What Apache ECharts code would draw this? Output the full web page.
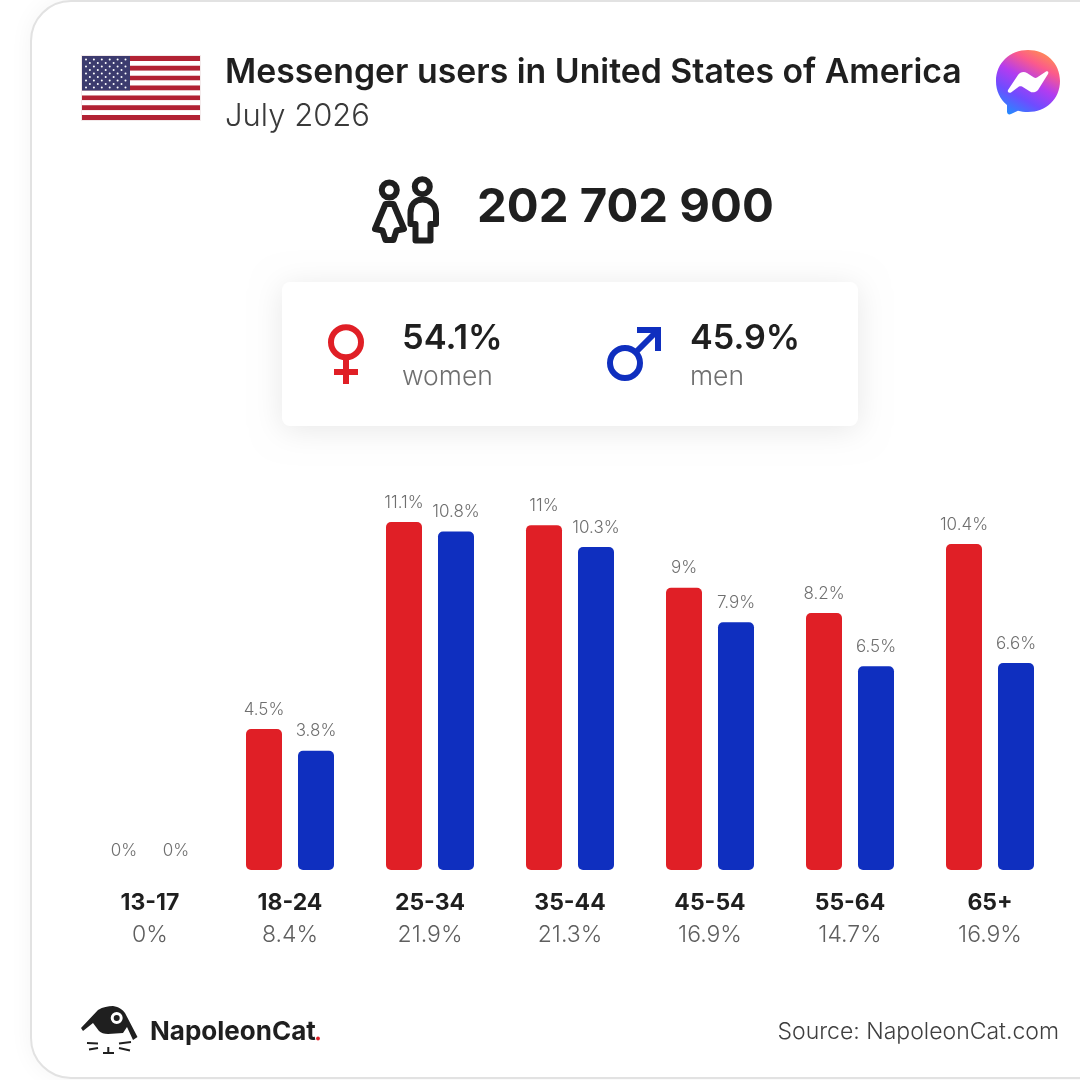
<!DOCTYPE html>
<html><head><meta charset="utf-8">
<style>html,body{margin:0;padding:0;background:#fff}#c{width:1080px;height:1080px}</style>
<script src="https://cdn.jsdelivr.net/npm/echarts@6/dist/echarts.min.js"></script>
</head><body><div id="c"></div>
<script>
const ageGroups = ['13-17','18-24','25-34','35-44','45-54','55-64','65+'];
const ageTotals = ['0%','8.4%','21.9%','21.3%','16.9%','14.7%','16.9%'];
const womenValues = [0,4.5,11.1,11,9,8.2,10.4];
const menValues = [0,3.8,10.8,10.3,7.9,6.5,6.6];
const titleText = 'Messenger users in United States of America';
const dateText = 'July 2026';
const totalText = '202 702 900';
const womenShare = '54.1%';
const menShare = '45.9%';
const sourceText = 'Source: NapoleonCat.com';
const brandText = 'NapoleonCat';

const RED='#e01f26', BLUE='#0f2fbf', INK='#1f1f1f', FONT='Inter, "Open Sans", sans-serif';
const g=[];
let pid=0;
const path=(d,style)=>{const n='decoPath'+(pid++);echarts.graphic.registerShape(n,echarts.graphic.extendPath(d,{}));g.push({type:n,shape:{},style});};
const txt=(x,y,text,size,weight,fill,align)=>g.push({type:'text',x,y,style:{text,fontSize:size,fontWeight:weight,fill,fontFamily:FONT,textAlign:align||'left',textVerticalAlign:'middle'}});
const rect=(x,y,w,h,fill,extra)=>g.push({type:'rect',shape:Object.assign({x,y,width:w,height:h},extra&&extra.shape),style:Object.assign({fill},extra&&extra.style)});

// outer card
rect(31,1,1200,1077,'#fff',{shape:{r:40},style:{stroke:'#e2e2e2',lineWidth:2,shadowBlur:24,shadowColor:'rgba(0,0,0,0.05)'}});

// flag
rect(81,55,120,66,'#f3e9ea');
for(let i=0;i<13;i++){const h=64/13;rect(82,56+i*h,118,h,i%2?'#ffffff':'#b22234');}
rect(82,56,48,34.5,'#3c3b6e');
for(let r=0;r<9;r++){const n=r%2?5:6;for(let k=0;k<n;k++){
  g.push({type:'circle',shape:{cx:86+(r%2?3.9:0)+k*7.9,cy:59.4+r*3.5,r:1},style:{fill:'#fff'}});
}}

txt(225,73,titleText,33.8,600,INK);
txt(225,117,dateText,31,300,'#3a3a3a');

// messenger icon
path('M1028 50 C1046 50 1060 63 1060 81 C1060 99 1046 112 1028 112 C1024 112 1021 111.5 1018 110.7 L1011 114 C1009 115 1007 114 1007 111.5 L1007 105 C1000 99 996 91 996 81 C996 63 1010 50 1028 50 Z',
  {fill:{type:'linear',x:0.15,y:1,x2:0.7,y2:0,colorStops:[{offset:0,color:'#1e90ff'},{offset:0.3,color:'#6f4cff'},{offset:0.55,color:'#b23cf0'},{offset:0.8,color:'#fb5a8c'},{offset:1,color:'#ff8a55'}]}});
path('M1008 90 L1018 75 C1020 72 1024 71 1027 73 L1034 77.5 C1035 78 1036 78 1037 77.5 L1046 71.5 C1048 70.5 1049 72 1048 74 L1038 90 C1036 92.5 1032 93 1030 91.5 L1022 86.5 C1021 86 1020 86 1019 86.5 L1011 92.5 C1009 93.5 1007 92 1008 90 Z',{fill:'#fff'});

// people icon
const ps={stroke:INK,lineWidth:6,fill:'none',lineJoin:'round'};
g.push({type:'circle',shape:{cx:389.3,cy:190,r:7.5},style:ps});
g.push({type:'circle',shape:{cx:422.3,cy:186.7,r:7.5},style:ps});
path('M385.5 204 L393.5 204 L404 229 L396.5 230.5 L393.5 240 L385.5 240 L382.5 230.5 L375 229 Z',ps);
path('M410.5 224 L410.5 213 C410.5 205 415 199.5 422.5 199.5 C430 199.5 436 205 436 213 L436 224 L430.5 224 L430.5 240.5 L415.5 240.5 L415.5 224 Z',ps);
txt(477,208,totalText,47.3,700,INK);

// gender card
rect(282,282,576,144,'#fff',{shape:{r:8},style:{shadowBlur:30,shadowColor:'rgba(0,0,0,0.09)',shadowOffsetY:4}});
g.push({type:'circle',shape:{cx:346,cy:342.3,r:15},style:{fill:'none',stroke:RED,lineWidth:6}});
rect(343,358,6,26,RED); rect(334,369,24,6,RED);
g.push({type:'circle',shape:{cx:625,cy:363,r:15},style:{fill:'none',stroke:BLUE,lineWidth:6}});
path('M635 353 L657 331',{stroke:BLUE,lineWidth:6,fill:'none'});
rect(637,327,24,6,BLUE); rect(655,327,6,24,BLUE);
txt(402,339,womenShare,34.5,600,INK);
txt(402,377,'women',26.5,300,'#6f6f6f');
txt(690,339,menShare,34.2,600,INK);
txt(690,377,'men',26.5,300,'#6f6f6f');

// logo
path('M81 1028 L98 1010 C103 1007 108 1006 113 1006 C119 1007 123 1010 125 1013 L137.5 1037 L133 1040 L127 1027 L123 1033 L108 1034 C104 1034 101 1033 99 1031 L93 1023 L83 1031 Z',{fill:INK});
g.push({type:'circle',shape:{cx:116.7,cy:1018,r:4.5},style:{fill:INK,stroke:'#fff',lineWidth:3}});
path('M87 1043 L98 1043.5 M89 1049.5 L98 1048 M131 1042 L119 1043.5 M130 1050.5 L119 1048 M108.3 1047 L108.3 1053 M103 1053 L114 1053',{stroke:INK,lineWidth:2,fill:'none'});
txt(150,1032,brandText,26,700,INK);
g.push({type:'circle',shape:{cx:318,cy:1038.5,r:1.9},style:{fill:RED}});
txt(1059,1032,sourceText,23,300,'#3f3f3f','right');

const labelStyle={show:true,position:'top',distance:11,formatter:'{c}%',fontSize:17,fontWeight:300,color:'#6f6f6f',fontFamily:FONT};
const radius=[5,5,5,5];
const chart=echarts.init(document.getElementById('c'),null,{renderer:'canvas'});
chart.setOption({
  animation:false,
  backgroundColor:'#fff',
  graphic:{elements:g},
  grid:{left:80,top:493.8,width:980,height:376.2,containLabel:false},
  xAxis:{type:'category',data:ageGroups,axisLine:{show:false},axisTick:{show:false},
    axisLabel:{margin:17,interval:0,
      formatter:(v,i)=>`{a|${v}}\n{b|${ageTotals[i]}}`,
      rich:{a:{fontSize:23,fontWeight:700,color:INK,fontFamily:FONT,lineHeight:32},
            b:{fontSize:23,fontWeight:300,color:'#5f5f5f',fontFamily:FONT,lineHeight:32}}}},
  yAxis:{type:'value',min:0,max:12,show:false,splitLine:{show:false}},
  series:[
    {name:'women',type:'bar',data:womenValues,barWidth:36,barGap:'44.44%',itemStyle:{color:RED,borderRadius:radius},label:labelStyle},
    {name:'men',type:'bar',data:menValues,barWidth:36,itemStyle:{color:BLUE,borderRadius:radius},label:labelStyle}
  ]
});
</script></body></html>
